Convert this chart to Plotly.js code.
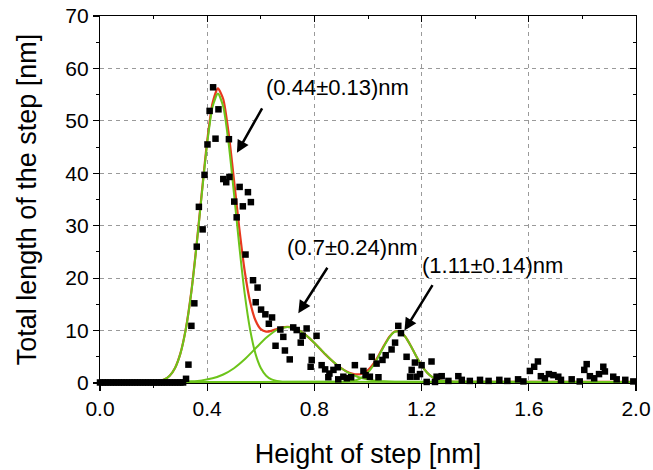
<!DOCTYPE html>
<html>
<head>
<meta charset="utf-8">
<script src="https://cdn.plot.ly/plotly-3.0.1.min.js"></script>
<style>html,body{margin:0;padding:0;background:#fff;}#chart{width:653px;height:470px;}</style>
</head>
<body>
<div id="chart"></div>
<script>
// Measured points: height of step [nm] vs total length [nm]
const dataX = [0,0.01,0.02,0.03,0.04,0.05,0.06,0.07,0.08,0.09,0.10,0.11,0.12,0.13,0.14,0.15,0.16,0.17,0.18,0.19,0.20,0.21,0.22,0.23,0.24,0.25,0.26,0.27,0.28,0.29,0.30,0.31,
  0.321,0.330,0.341,0.352,0.361,0.369,0.383,0.390,0.401,0.409,0.422,0.431,0.442,0.460,0.471,0.481,0.483,0.501,0.510,0.521,0.533,0.543,0.552,0.563,0.571,0.581,0.588,0.601,0.617,0.630,0.642,0.655,0.673,0.684,0.690,0.708,0.721,0.734,0.749,0.756,0.771,0.786,0.790,0.808,0.827,0.840,0.852,0.856,0.871,0.887,0.889,0.908,0.921,0.937,0.951,0.983,0.991,1.007,1.014,1.032,1.039,1.054,1.066,1.088,1.101,1.113,1.123,1.144,1.157,1.163,1.175,1.181,1.194,1.200,1.219,1.237,1.250,1.256,1.275,1.300,1.337,1.350,1.380,1.418,1.450,1.490,1.520,1.560,1.580,1.604,1.620,1.634,1.645,1.660,1.675,1.692,1.710,1.720,1.760,1.790,1.807,1.816,1.828,1.844,1.862,1.878,1.884,1.915,1.928,1.960,1.990];
const dataY = [0.1,0.1,0.1,0.1,0.1,0.1,0.1,0.1,0.1,0.1,0.1,0.1,0.1,0.1,0.1,0.1,0.1,0.1,0.1,0.1,0.1,0.1,0.1,0.1,0.1,0.1,0.1,0.1,0.1,0.1,0.1,0.1,
  0.8,3.5,10.9,15.2,26.0,33.6,29.3,39.7,45.5,51.9,56.4,46.6,52.2,38.9,38.3,46.5,39.3,34.6,31.6,37.4,33.7,24.5,36.4,34.5,19.6,15.4,18.2,14.0,13.1,11.3,12.5,7.1,10.2,8.8,6.2,4.5,10.6,10.1,7.7,9.0,10.4,3.1,4.4,9.0,3.4,2.6,1.1,1.8,2.5,3.0,0.7,1.2,0.9,1.1,3.4,2.3,1.5,1.2,5.0,3.7,1.1,4.4,5.3,6.4,7.7,10.9,9.5,5.0,1.2,2.5,3.9,1.2,1.7,3.4,0.2,4.1,0.2,1.2,1.3,0.4,1.3,0.6,0.4,0.6,0.4,0.6,0.4,0.7,0.3,2.3,3.1,4.1,1.3,0.9,1.7,1.5,1.2,0.6,0.7,0.3,2.5,3.6,1.3,0.9,1.7,3.1,2.2,1.2,0.7,0.6,0.3];

// Cumulative fit (red)
const fitX = [0,0.20,0.22,0.24,0.26,0.28,0.30,0.32,0.34,0.36,0.38,0.40,0.42,0.44,0.46,0.48,0.50,0.52,0.54,0.56,0.58,0.60,0.62,0.64,0.66,0.68,0.70,0.72,0.74,0.76,0.78,0.80,0.82,0.84,0.86,0.88,0.90,0.92,0.94,0.96,0.98,1.00,1.02,1.04,1.06,1.08,1.10,1.12,1.14,1.16,1.18,1.20,1.22,1.24,1.26,1.28,1.30,1.32,2.0];
const fitY = [0.2,0.26,0.38,0.69,1.40,2.88,5.64,10.27,17.12,26.19,36.4,46.16,53.39,56.2,54.12,47.65,38.72,29.41,21.32,15.51,11.97,10.28,9.80,9.95,10.31,10.62,10.72,10.56,10.13,9.47,8.61,7.62,6.57,5.51,4.52,3.61,2.84,2.21,1.80,1.63,1.82,2.47,3.65,5.30,7.18,8.83,9.81,9.79,8.77,7.06,5.11,3.35,2.01,1.13,0.63,0.38,0.26,0.22,0.2];

// Peak 1 (green)
const peak1X = [0,0.18,0.20,0.22,0.24,0.26,0.28,0.30,0.32,0.34,0.36,0.38,0.40,0.42,0.44,0.46,0.48,0.50,0.52,0.54,0.56,0.58,0.60,0.62,0.64,0.66,0.68,0.70,2.0];
const peak1Y = [0.2,0.22,0.26,0.38,0.68,1.39,2.86,5.6,10.2,17.0,26.0,36.1,45.7,52.7,55.2,52.7,45.7,36.1,26.0,17.0,10.2,5.6,2.86,1.39,0.68,0.38,0.26,0.22,0.2];
// Peak 2 (green)
const peak2X = [0,0.30,0.34,0.38,0.42,0.46,0.50,0.54,0.58,0.62,0.66,0.70,0.74,0.78,0.82,0.86,0.90,0.94,0.98,1.02,1.06,1.10,2.0];
const peak2Y = [0.2,0.24,0.32,0.50,0.89,1.62,2.82,4.52,6.57,8.61,10.13,10.70,10.13,8.61,6.57,4.52,2.82,1.62,0.89,0.50,0.32,0.24,0.2];
// Peak 3 (green)
const peak3X = [0,0.90,0.92,0.94,0.96,0.98,1.00,1.02,1.04,1.06,1.08,1.10,1.12,1.14,1.16,1.18,1.20,1.22,1.24,1.26,1.28,1.30,1.32,2.0];
const peak3Y = [0.2,0.22,0.26,0.38,0.63,1.13,2.01,3.35,5.11,7.06,8.76,9.77,9.77,8.76,7.06,5.11,3.35,2.01,1.13,0.63,0.38,0.26,0.22,0.2];

const xTickVals = [0,0.4,0.8,1.2,1.6,2.0];
const xTickText = ['0.0','0.4','0.8','1.2','1.6','2.0'];
const yTickVals = [0,10,20,30,40,50,60,70];

const labels = ['(0.44±0.13)nm','(0.7±0.24)nm','(1.11±0.14)nm'];

const RED = '#e8391f';
const GREEN = '#6cc41a';
const FONT = 'Liberation Sans, Arial, sans-serif';

const traces = [
  {x: fitX, y: fitY, type: 'scatter', mode: 'lines', line: {color: RED, width: 2.2, shape: 'spline', smoothing: 0.6}, hoverinfo: 'skip'},
  {x: peak1X, y: peak1Y, type: 'scatter', mode: 'lines', line: {color: GREEN, width: 2, shape: 'spline', smoothing: 0.6}, hoverinfo: 'skip'},
  {x: peak2X, y: peak2Y, type: 'scatter', mode: 'lines', line: {color: GREEN, width: 2, shape: 'spline', smoothing: 0.6}, hoverinfo: 'skip'},
  {x: peak3X, y: peak3Y, type: 'scatter', mode: 'lines', line: {color: GREEN, width: 2, shape: 'spline', smoothing: 0.6}, hoverinfo: 'skip'},
  {x: dataX, y: dataY, type: 'scatter', mode: 'markers', cliponaxis: false, marker: {symbol: 'square', size: 6.5, color: '#000'}},
  {x: [], y: [], xaxis: 'x2', yaxis: 'y2', type: 'scatter', mode: 'markers'}
];

const axisCommon = {
  showline: true, linecolor: '#000', linewidth: 1.2, zeroline: false,
  tickcolor: '#000', tickwidth: 1.2,
  tickfont: {family: FONT, size: 21, color: '#000'}
};

const layout = {
  width: 653, height: 470,
  margin: {l: 100, r: 17, t: 16, b: 87},
  paper_bgcolor: '#fff', plot_bgcolor: '#fff',
  showlegend: false,
  xaxis: Object.assign({}, axisCommon, {
    range: [0, 2], tickmode: 'array', tickvals: xTickVals, ticktext: xTickText,
    ticks: 'outside', ticklen: 7,
    minor: {dtick: 0.2, tick0: 0, ticks: 'outside', ticklen: 4, tickcolor: '#000', tickwidth: 1, showgrid: false},
    showgrid: true, gridcolor: '#9a9a9a', griddash: '4px,4px', gridwidth: 1,
    title: {text: 'Height of step [nm]', font: {family: FONT, size: 27, color: '#000'}, standoff: 24}
  }),
  yaxis: Object.assign({}, axisCommon, {
    range: [0, 70], tickmode: 'array', tickvals: yTickVals,
    ticks: 'outside', ticklen: 6,
    minor: {dtick: 5, tick0: 0, ticks: 'outside', ticklen: 3, tickcolor: '#000', tickwidth: 1, showgrid: false},
    showgrid: true, gridcolor: '#9a9a9a', griddash: '4px,4px', gridwidth: 1,
    title: {text: 'Total length of the step [nm]', font: {family: FONT, size: 27, color: '#000'}, standoff: 20}
  }),
  xaxis2: {
    overlaying: 'x', side: 'top', anchor: 'y2', range: [0, 2],
    showline: true, linecolor: '#000', linewidth: 1.2, zeroline: false, showgrid: false,
    tickmode: 'array', tickvals: xTickVals, ticks: 'inside', ticklen: 6, tickcolor: '#000', tickwidth: 1.2,
    minor: {dtick: 0.2, tick0: 0, ticks: 'inside', ticklen: 3, tickcolor: '#000', tickwidth: 1, showgrid: false},
    showticklabels: false
  },
  yaxis2: {
    overlaying: 'y', side: 'right', anchor: 'x2', range: [0, 70],
    showline: true, linecolor: '#000', linewidth: 1.2, zeroline: false, showgrid: false,
    tickmode: 'array', tickvals: yTickVals, ticks: 'inside', ticklen: 6, tickcolor: '#000', tickwidth: 1.2,
    minor: {dtick: 5, tick0: 0, ticks: 'inside', ticklen: 3, tickcolor: '#000', tickwidth: 1, showgrid: false},
    showticklabels: false
  },
  annotations: [
    {x: 0.888, y: 56.3, xref: 'x', yref: 'y', text: labels[0], showarrow: false, font: {family: FONT, size: 22, color: '#000'}},
    {x: 0.944, y: 25.9, xref: 'x', yref: 'y', text: labels[1], showarrow: false, font: {family: FONT, size: 22, color: '#000'}},
    {x: 1.463, y: 22.5, xref: 'x', yref: 'y', text: labels[2], showarrow: false, font: {family: FONT, size: 22, color: '#000'}},
    {x: 0.511, y: 43.9, xref: 'x', yref: 'y', text: '', showarrow: true, ax: 26, ay: -46, arrowhead: 2, arrowsize: 1, arrowwidth: 2.5, arrowcolor: '#000'},
    {x: 0.740, y: 13.3, xref: 'x', yref: 'y', text: '', showarrow: true, ax: 30, ay: -47, arrowhead: 2, arrowsize: 1, arrowwidth: 2.5, arrowcolor: '#000'},
    {x: 1.136, y: 10.0, xref: 'x', yref: 'y', text: '', showarrow: true, ax: 29, ay: -47, arrowhead: 2, arrowsize: 1, arrowwidth: 2.5, arrowcolor: '#000'}
  ]
};

Plotly.newPlot('chart', traces, layout, {displayModeBar: false, staticPlot: true});
</script>
</body>
</html>
